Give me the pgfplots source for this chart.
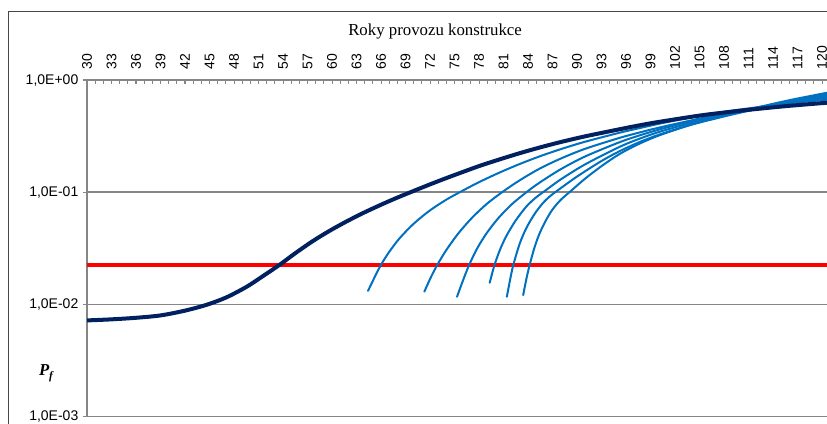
\documentclass[border=0pt]{standalone}
\usepackage{pgfplots}
\pgfplotsset{compat=1.18}
\usepackage{fontspec}
\setmainfont{Liberation Sans}
\newfontfamily\timesfont{Liberation Serif}

\definecolor{navy}{RGB}{0,32,96}
\definecolor{midblue}{RGB}{0,112,192}
\definecolor{gridgray}{RGB}{134,134,134}
\definecolor{framegray}{RGB}{70,70,70}

\begin{document}
\begin{tikzpicture}
\begin{axis}[
  name=a,
  scale only axis,
  width=563.5pt, height=252.4pt,
  xmin=30, xmax=122,
  ymode=log, ymin=0.001, ymax=1,
  yminorticks=false,
  axis line style={gridgray, line width=1.3pt},
  ymajorgrids,
  grid style={gridgray, line width=1.2pt},
  ytick={0.001,0.01,0.1,1},
  yticklabels={{1,0E-03},{1,0E-02},{1,0E-01},{1,0E+00}},
  ytick pos=left, ytick align=outside,
  xtick={30,33,...,120}, minor x tick num=2,
  xtick pos=right, xticklabel pos=right, xtick align=inside,
  major tick length=3pt, minor tick length=3pt,
  tick style={gridgray, line width=0.8pt},
  /pgf/number format/assume math mode=true,
  xticklabel shift=4.5pt,
  xticklabel style={rotate=90, anchor=west, font=\fontsize{10.5}{12}\selectfont},
  yticklabel style={anchor=east, font=\fontsize{10.5}{12}\selectfont},
  every axis plot/.append style={line join=round, line cap=round},
]
% target probability level
\addplot[red, line width=3pt, line cap=butt] coordinates {(30,0.0226) (122,0.0226)};

% updated curves for later inspection times
\addplot[midblue, line width=1.5pt, smooth] coordinates {
(64.4,0.0132) (65.2,0.0174) (66,0.0226) (67,0.0294) (68.3,0.0391) (70,0.0524)
(71.9,0.0681) (74,0.0859) (76,0.1033) (78,0.123) (80.5,0.1496) (83,0.1787)
(85.4,0.2085) (88,0.242) (91,0.282) (95.2,0.339) (97.6,0.372) (100,0.407)
(103,0.450) (105,0.479) (108.5,0.527) (112,0.571) (116,0.621) (121,0.672)};
\addplot[midblue, line width=1.5pt, smooth] coordinates {
(71.3,0.0130) (72.1,0.01746) (72.9,0.0226) (74,0.0306) (75.5,0.0433) (77.2,0.0598)
(79,0.0793) (80.9,0.101) (83,0.128) (85.4,0.162) (88,0.1995) (91,0.244)
(95.2,0.305) (97.6,0.340) (100,0.376) (103,0.421) (105,0.453) (108.5,0.509)
(112,0.565) (116,0.628) (121,0.700)};
\addplot[midblue, line width=1.5pt, smooth] coordinates {
(75.3,0.0117) (76.05,0.0165) (76.8,0.0226) (77.8,0.0319) (79,0.0439) (80.4,0.0592)
(82,0.078) (83.8,0.100) (85.4,0.1216) (88,0.1603) (91,0.2085) (95.2,0.279)
(97.6,0.320) (100,0.361) (103,0.412) (105,0.446) (108.5,0.505) (112,0.565)
(116,0.634) (121,0.720)};
\addplot[midblue, line width=1.5pt, smooth] coordinates {
(79.3,0.0156) (79.9,0.0226) (80.6,0.0312) (81.4,0.0415) (82.5,0.0562) (83.8,0.0747)
(85,0.0902) (86,0.102) (88,0.130) (91,0.1774) (95.2,0.2535) (97.6,0.299)
(100,0.344) (103,0.397) (105,0.434) (108.5,0.495) (112,0.564) (116,0.641) (121,0.740)};
\addplot[midblue, line width=1.5pt, smooth] coordinates {
(81.4,0.0117) (81.8,0.0166) (82.2,0.0226) (83,0.0352) (83.8,0.0481) (84.8,0.0641)
(85.8,0.0798) (86.7,0.0923) (87.6,0.1035) (90,0.138) (93,0.190) (95.2,0.232)
(97.6,0.279) (100,0.325) (103,0.381) (105,0.418) (108.5,0.483) (112,0.552)
(116,0.637) (121,0.760)};
\addplot[midblue, line width=1.5pt, smooth] coordinates {
(83.4,0.0121) (83.8,0.0170) (84.2,0.0226) (84.8,0.0324) (85.4,0.0428) (86.2,0.0564)
(87,0.0703) (88,0.0855) (89.2,0.102) (91,0.1324) (93,0.171) (95.2,0.219)
(97.6,0.270) (100,0.320) (103,0.380) (105,0.421) (108.5,0.491) (112,0.568)
(116,0.661) (121,0.780)};

% original prediction
\addplot[navy, line width=3pt, smooth] coordinates {
(30,0.0072) (33,0.00736) (36,0.0076) (39,0.00798) (42,0.0088) (44.6,0.0099)
(47,0.0115) (49.5,0.0143) (51.5,0.0178) (53.6,0.0226) (55.5,0.0286) (57.6,0.0365)
(59.7,0.0453) (61.8,0.0550) (63.8,0.0652) (65.8,0.0762) (67.8,0.0883) (69.9,0.102)
(72,0.1175) (74,0.1337) (76,0.1514) (78.1,0.172) (80.5,0.196) (83,0.223)
(85.4,0.250) (88,0.280) (91,0.315) (95.2,0.364) (97.6,0.394) (100,0.423)
(105,0.482) (108.5,0.518) (112,0.552) (116,0.589) (121,0.631)};
\end{axis}

% chart-area border
\draw[framegray, line width=0.6pt]
  ([xshift=-59.25pt,yshift=-30pt]a.south west) --
  ([xshift=-59.25pt,yshift=51.75pt]a.north west) --
  ([xshift=640pt,yshift=51.75pt]a.north west);

\node[font=\timesfont\fontsize{12.6}{14}\selectfont] at ([xshift=261pt,yshift=36.75pt]a.north west) {Roky provozu konstrukce};
\node[font=\timesfont\bfseries\itshape\fontsize{12.5}{14}\selectfont] at ([xshift=-30.75pt,yshift=32.6pt]a.south west) {P\raisebox{-0.45ex}{\fontsize{8.5}{9}\selectfont f}};

\pgfresetboundingbox
\path[use as bounding box] ([xshift=-65.25pt,yshift=-4.875pt]a.south west) rectangle ([xshift=554.9pt,yshift=60pt]a.north west);
\end{tikzpicture}
\end{document}
